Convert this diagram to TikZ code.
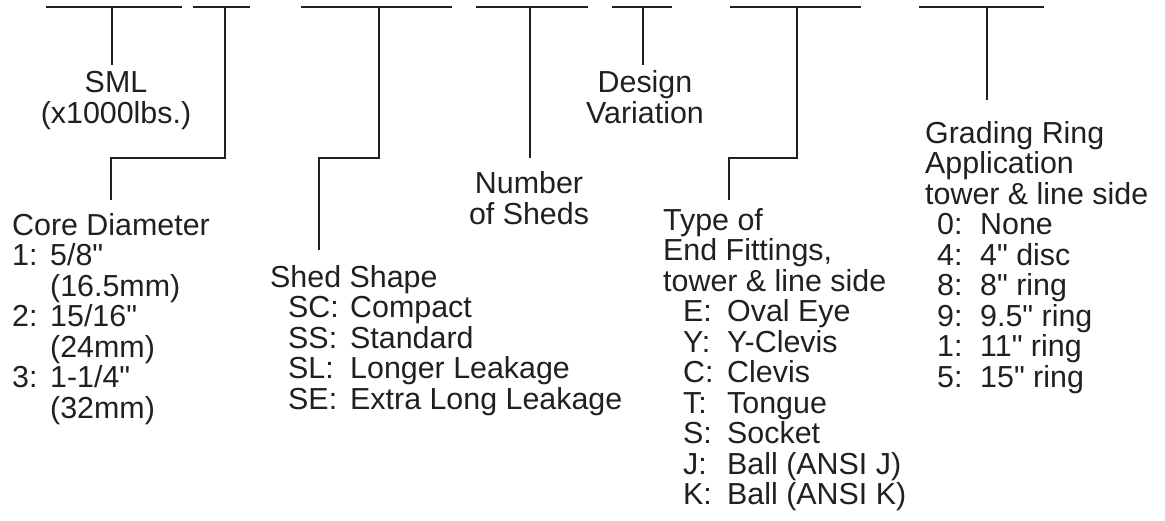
\documentclass[tikz,border=0pt]{standalone}
\usepackage{fontspec}
\setmainfont{Liberation Sans}
\definecolor{ink}{RGB}{35,31,32}
\newcommand{\inch}{\textquotedbl}
\begin{document}
\begin{tikzpicture}[x=1pt,y=-1pt,
  txt/.style={font=\fontsize{30.4}{30.5}\selectfont, text=ink, inner sep=0pt, anchor=base west},
  ctxt/.style={txt, anchor=base},
  bar/.style={line width=2.6pt, draw=ink},
  lead/.style={line width=1.1pt, draw=ink, line cap=butt, line join=miter}]
\useasboundingbox (0,0) rectangle (1165,520);

% ---- bars ----
\coordinate (b1l) at (46,7);   \coordinate (b1r) at (182,7);  \coordinate (s1) at (112,7);
\coordinate (b2l) at (193,7);  \coordinate (b2r) at (250,7);  \coordinate (s2) at (225,7);
\coordinate (b3l) at (301,7);  \coordinate (b3r) at (452,7);  \coordinate (s3) at (379,7);
\coordinate (b4l) at (476,7);  \coordinate (b4r) at (588,7);  \coordinate (s4) at (530,7);
\coordinate (b5l) at (612,7);  \coordinate (b5r) at (672,7);  \coordinate (s5) at (643,7);
\coordinate (b6l) at (730,7);  \coordinate (b6r) at (861,7);  \coordinate (s6) at (797,7);
\coordinate (b7l) at (919,7);  \coordinate (b7r) at (1044,7); \coordinate (s7) at (987,7);
\foreach \i in {1,...,7} { \draw[bar] (b\i l) -- (b\i r); }

% ---- leader ends ----
\coordinate (e1) at (112,65);
\coordinate (e2) at (111,200);
\coordinate (e3) at (319,250);
\coordinate (e4) at (530,158);
\coordinate (e5) at (643,65);
\coordinate (e6) at (729,200);
\coordinate (e7) at (987,100);

\draw[lead] (s1) -- (e1);
\draw[lead] (s2) |- (111,158) -- (e2);
\draw[lead] (s3) |- (319,158) -- (e3);
\draw[lead] (s4) -- (e4);
\draw[lead] (s5) -- (e5);
\draw[lead] (s6) |- (729,158) -- (e6);
\draw[lead] (s7) -- (e7);

% ---- SML ----
\node[ctxt] (sml1) at (116,92) {SML};
\node[ctxt] (sml2) at (116,123) {(x1000lbs.)};

% ---- Design Variation ----
\node[ctxt] (dv1) at (645,92) {Design};
\node[ctxt] (dv2) at (645,123) {Variation};

% ---- Number of Sheds ----
\node[ctxt] (ns1) at (529,193) {Number};
\node[ctxt] (ns2) at (529,224) {of Sheds};

% ---- Core Diameter ----
\node[txt] (cd) at (12,235) {Core Diameter};
\node[txt] (cdk1) at (12,265.5) {1:};  \node[txt] (cdv1) at (50,265.5) {5/8\inch};
\node[txt] (cdv1b) at (50,296) {(16.5mm)};
\node[txt] (cdk2) at (12,326.5) {2:};  \node[txt] (cdv2) at (50,326.5) {15/16\inch};
\node[txt] (cdv2b) at (50,357) {(24mm)};
\node[txt] (cdk3) at (12,387.5) {3:};  \node[txt] (cdv3) at (50,387.5) {1-1/4\inch};
\node[txt] (cdv3b) at (50,418) {(32mm)};

% ---- Shed Shape ----
\node[txt] (ss) at (270,287) {Shed Shape};
\foreach \k/\v [count=\i] in {SC/Compact, SS/Standard, SL/Longer Leakage, SE/Extra Long Leakage} {
  \node[txt] (ssk\i) at (288,{287+30.5*\i}) {\k:};
  \node[txt] (ssv\i) at (350,{287+30.5*\i}) {\v};
}

% ---- End Fittings ----
\node[txt] (ef1) at (663,230) {Type of};
\node[txt] (ef2) at (663,260.5) {End Fittings,};
\node[txt] (ef3) at (663,291) {tower \& line side};
\foreach \k/\v [count=\i] in {E/Oval Eye, Y/Y-Clevis, C/Clevis, T/Tongue, S/Socket, J/Ball (ANSI J), K/Ball (ANSI K)} {
  \node[txt] (efk\i) at (683,{291+30.5*\i}) {\k:};
  \node[txt] (efv\i) at (727,{291+30.5*\i}) {\v};
}

% ---- Grading Ring ----
\node[txt] (gr1) at (925,143) {Grading Ring};
\node[txt] (gr2) at (925,173.5) {Application};
\node[txt] (gr3) at (925,204) {tower \& line side};
\foreach \k/\v [count=\i] in {0/None, 4/4\inch{} disc, 8/8\inch{} ring, 9/9.5\inch{} ring, 1/11\inch{} ring, 5/15\inch{} ring} {
  \node[txt] (grk\i) at (937,{204+30.5*\i}) {\k:};
  \node[txt] (grv\i) at (980,{204+30.5*\i}) {\v};
}
\end{tikzpicture}
\end{document}
